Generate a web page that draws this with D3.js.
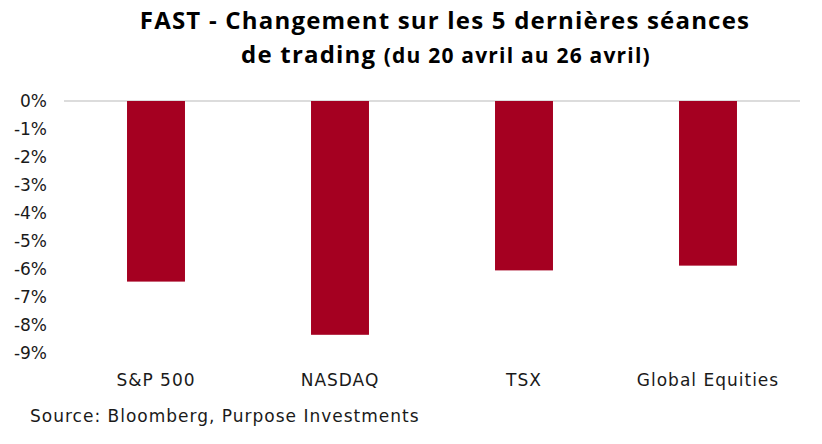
<!DOCTYPE html>
<html>
<head>
<meta charset="utf-8">
<script src="https://cdn.jsdelivr.net/npm/d3@7"></script>
<style>
  body { margin: 0; background: #fff; }
  text { font-family: "DejaVu Sans", sans-serif; }
</style>
</head>
<body>
<script>
const categories = ['S&P 500', 'NASDAQ', 'TSX', 'Global Equities'];
const values = [-6.45, -8.35, -6.05, -5.88];
const yTicks = [0, -1, -2, -3, -4, -5, -6, -7, -8, -9];

const width = 822;
const height = 444;
const margin = {top: 101, right: 22, bottom: 91, left: 64};

const svg = d3.select('body').append('svg')
    .attr('width', width)
    .attr('height', height);

const x = d3.scaleBand()
    .domain(categories)
    .range([margin.left, width - margin.right])
    .paddingInner(0.685)
    .paddingOuter(0.3425);

const y = d3.scaleLinear()
    .domain([0, -9])
    .range([margin.top, height - margin.bottom]);

// title, two lines
svg.append('text')
    .attr('x', 445).attr('y', 29)
    .attr('text-anchor', 'middle')
    .style('font-family', '"Open Sans", sans-serif')
    .style('font-weight', 'bold')
    .style('font-size', '24px')
    .style('letter-spacing', '1.2px')
    .attr('fill', '#000')
    .text('FAST - Changement sur les 5 dernières séances');
const l2 = svg.append('text')
    .attr('x', 446).attr('y', 63)
    .attr('text-anchor', 'middle')
    .style('font-family', '"Open Sans", sans-serif')
    .style('font-weight', 'bold')
    .style('letter-spacing', '1.2px')
    .attr('fill', '#000');
l2.append('tspan').style('font-size', '24px').text('de trading ');
l2.append('tspan').style('font-size', '21px').text('(du 20 avril au 26 avril)');

// y axis labels
const yAxis = svg.append('g')
    .attr('transform', `translate(${margin.left - 17},0)`)
    .call(d3.axisLeft(y).tickValues(yTicks).tickSize(0).tickPadding(0)
        .tickFormat(d => d + '%'));
yAxis.select('.domain').remove();
yAxis.selectAll('text')
    .style('font-family', '"DejaVu Sans", sans-serif')
    .style('font-size', '17px')
    .attr('fill', '#1a1a1a');

// zero line
svg.append('line')
    .attr('x1', margin.left).attr('x2', width - margin.right)
    .attr('y1', y(0)).attr('y2', y(0))
    .attr('stroke', '#d0d0d0')
    .attr('stroke-width', 1.3);

// bars
svg.selectAll('rect.bar')
    .data(categories)
    .enter()
    .append('rect')
    .attr('class', 'bar')
    .attr('x', d => x(d))
    .attr('y', y(0))
    .attr('width', x.bandwidth())
    .attr('height', (d, i) => y(values[i]) - y(0))
    .attr('fill', '#A50021');

// category labels
svg.selectAll('text.cat')
    .data(categories)
    .enter()
    .append('text')
    .attr('class', 'cat')
    .attr('x', d => x(d) + x.bandwidth() / 2)
    .attr('y', 386)
    .attr('text-anchor', 'middle')
    .style('font-size', '17px')
    .style('letter-spacing', '1px')
    .attr('fill', '#1a1a1a')
    .text(d => d);

// source
svg.append('text')
    .attr('x', 30)
    .attr('y', 422)
    .style('font-size', '17px')
    .style('letter-spacing', '1px')
    .attr('fill', '#1a1a1a')
    .text('Source: Bloomberg, Purpose Investments');
</script>
</body>
</html>
